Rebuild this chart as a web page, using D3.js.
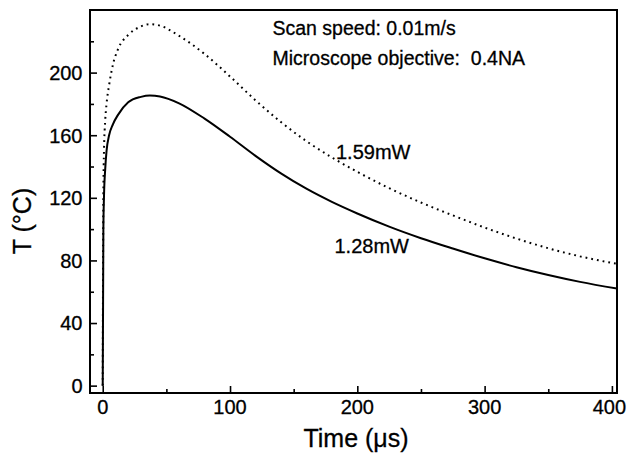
<!DOCTYPE html>
<html>
<head>
<meta charset="utf-8">
<script src="https://cdn.jsdelivr.net/npm/d3@7/dist/d3.min.js"></script>
<style>
  html, body { margin: 0; padding: 0; background: #fff; }
  svg { display: block; }
  text { font-family: "Liberation Sans", Arial, Helvetica, sans-serif; fill: #000; }
</style>
</head>
<body>
<svg id="chart" width="627" height="453"></svg>
<script>
// ---- data ----
const time = [0, 0.5, 1, 2, 3, 5, 8, 12, 20, 30, 37, 45, 60, 80, 100, 120, 140, 160, 180, 200, 225, 250, 275, 300, 325, 350, 375, 404];
const temp128 = [0, 99, 121, 139, 150, 160, 167, 173, 181, 184.5, 185.4, 184.8, 180.4, 170.6, 159, 146.8, 135.6, 125.8, 117.4, 110, 101.6, 94.2, 87.6, 81.35, 75.7, 70.7, 66.3, 62];
const temp159 = [0, 123, 150, 170, 180, 192, 205, 215, 224, 229.5, 231, 230, 223.5, 211.9, 197.5, 182.3, 168.4, 156.2, 145.8, 136.6, 126.2, 117, 108.8, 101, 94, 87.8, 82.6, 77.8];
const xTicks = [0, 100, 200, 300, 400];
const xMinor = [50, 150, 250, 350];
const yTicks = [0, 40, 80, 120, 160, 200];
const yMinor = [20, 60, 100, 140, 180, 220];
const seriesLabels = ["1.59mW", "1.28mW"];
const notes = ["Scan speed: 0.01m/s", "Microscope objective:  0.4NA"];

const svg = d3.select("#chart");
const L = 90, R = 617, T = 10, B = 393;

const x = d3.scaleLinear().domain([-10, 404]).range([L, R]);
const y = d3.scaleLinear().domain([-4.7, 240]).range([B, T]);

// frame
svg.append("rect").attr("x", L).attr("y", T).attr("width", R - L).attr("height", B - T)
  .attr("fill", "none").attr("stroke", "#000").attr("stroke-width", 2);

// axes with inward ticks
const gx = svg.append("g").attr("transform", `translate(0,${B})`)
  .call(d3.axisTop(x).tickValues(xTicks).tickSize(7).tickFormat(""));
const gxm = svg.append("g").attr("transform", `translate(0,${B})`)
  .call(d3.axisTop(x).tickValues(xMinor).tickSize(4).tickFormat(""));
const gy = svg.append("g").attr("transform", `translate(${L},0)`)
  .call(d3.axisRight(y).tickValues(yTicks).tickSize(7).tickFormat(""));
const gym = svg.append("g").attr("transform", `translate(${L},0)`)
  .call(d3.axisRight(y).tickValues(yMinor).tickSize(4).tickFormat(""));
[gx, gxm, gy, gym].forEach(g => {
  g.select(".domain").remove();
  g.selectAll("line").attr("stroke", "#000").attr("stroke-width", 1.6);
});

// tick labels
svg.append("g").selectAll("text").data(xTicks).join("text")
  .attr("x", d => x(d) - (d === 400 ? 2.5 : 0)).attr("y", 413.5)
  .attr("text-anchor", "middle").attr("font-size", 20)
  .attr("stroke", "#000").attr("stroke-width", 0.3)
  .text(d => d);
svg.append("g").selectAll("text").data(yTicks).join("text")
  .attr("x", 82.5).attr("y", d => y(d) + 7.3)
  .attr("text-anchor", "end").attr("font-size", 20)
  .attr("stroke", "#000").attr("stroke-width", 0.3)
  .text(d => d);

// axis titles
svg.append("text").attr("x", 356).attr("y", 446.5).attr("text-anchor", "middle")
  .attr("font-size", 25).attr("stroke", "#000").attr("stroke-width", 0.3)
  .text("Time (\u03BCs)");
svg.append("text").attr("transform", "translate(30.5,221) rotate(-90)")
  .attr("text-anchor", "middle").attr("font-size", 25)
  .attr("stroke", "#000").attr("stroke-width", 0.3)
  .text("T (\u00B0C)");

// curves
const line = d3.line().x(d => x(d[0])).y(d => y(d[1])).curve(d3.curveMonotoneX);
svg.append("clipPath").attr("id", "clip").append("rect")
  .attr("x", L).attr("y", T).attr("width", R - L).attr("height", B - T);

svg.append("path").datum(time.map((t, i) => [t, temp159[i]]))
  .attr("d", line).attr("fill", "none").attr("stroke", "#000")
  .attr("stroke-width", 2).attr("stroke-dasharray", "1.8,4")
  .attr("clip-path", "url(#clip)");
svg.append("path").datum(time.map((t, i) => [t, temp128[i]]))
  .attr("d", line).attr("fill", "none").attr("stroke", "#000")
  .attr("stroke-width", 2).attr("clip-path", "url(#clip)");

// curve labels
svg.append("text").attr("x", 336).attr("y", 158.5).attr("font-size", 20)
  .attr("stroke", "#000").attr("stroke-width", 0.3).text(seriesLabels[0]);
svg.append("text").attr("x", 334.5).attr("y", 253.3).attr("font-size", 20)
  .attr("stroke", "#000").attr("stroke-width", 0.3).text(seriesLabels[1]);

// notes
svg.append("text").attr("x", 272.5).attr("y", 35).attr("font-size", 19.5)
  .attr("stroke", "#000").attr("stroke-width", 0.3).text(notes[0]);
svg.append("text").attr("x", 272.5).attr("y", 65).attr("font-size", 19.5)
  .attr("stroke", "#000").attr("stroke-width", 0.3)
  .attr("xml:space", "preserve").style("white-space", "pre").text(notes[1]);
</script>
</body>
</html>
